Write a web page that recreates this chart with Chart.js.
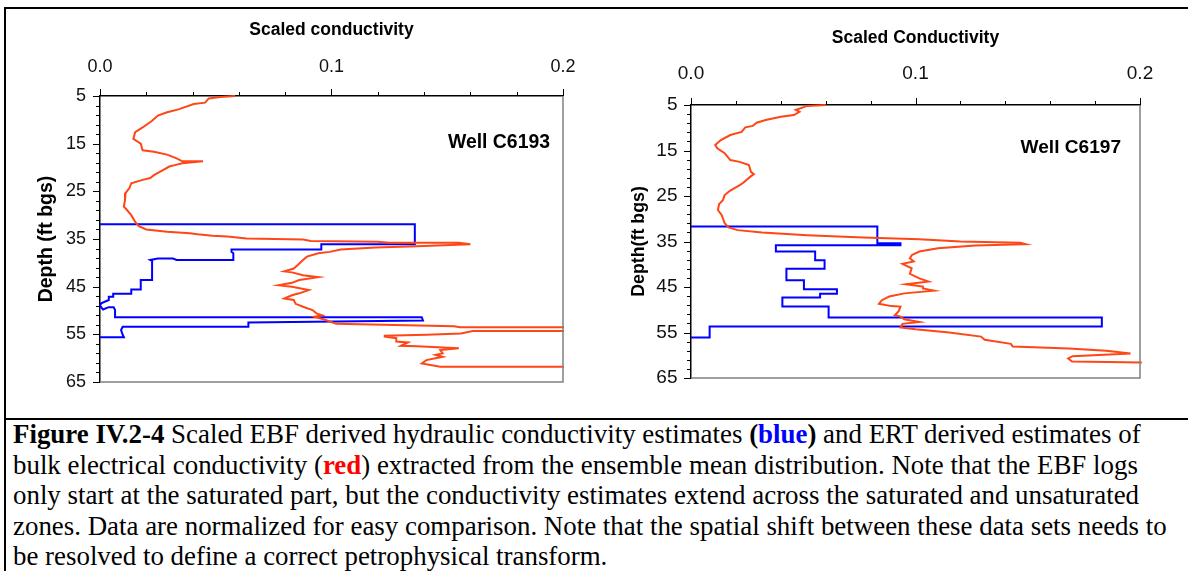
<!DOCTYPE html>
<html>
<head>
<meta charset="utf-8">
<script src="https://cdn.jsdelivr.net/npm/chart.js@4.4.0/dist/chart.umd.min.js"></script>
<style>
  html, body { margin: 0; padding: 0; background: #fff; }
  body { width: 1188px; height: 571px; position: relative; overflow: hidden; }
  canvas { position: absolute; top: 0; }
  #chartC6193 { left: 0; }
  #chartC6197 { left: 594px; }
  .frame { position: absolute; left: 4px; top: 7px; width: 1200px; height: 600px;
           border-top: 2px solid #000; border-left: 2px solid #000; z-index: 2; }
  .rule { position: absolute; left: 4px; top: 418px; width: 1200px; border-top: 2px solid #000; z-index: 2; }
  .caption { position: absolute; left: 13px; top: 419px; white-space: nowrap; color: #000;
             font-family: 'Liberation Serif', 'Times New Roman', serif; font-size: 26.9px; line-height: 30.5px; }
  .caption .blue { color: #0000ff; }
  .caption .red { color: #ff0000; }
</style>
</head>
<body>
<canvas id="chartC6193" width="594" height="419"></canvas>
<canvas id="chartC6197" width="594" height="419"></canvas>
<div class="frame"></div>
<div class="rule"></div>
<div class="caption">
  <b>Figure IV.2-4</b> Scaled EBF derived hydraulic conductivity estimates <b>(<span class="blue">blue</span>)</b> and ERT derived estimates of<br>
  bulk electrical conductivity (<b class="red">red</b>) extracted from the ensemble mean distribution. Note that the EBF logs<br>
  only start at the saturated part, but the conductivity estimates extend across the saturated and unsaturated<br>
  zones. Data are normalized for easy comparison. Note that the spatial shift between these data sets needs to<br>
  be resolved to define a correct petrophysical transform.
</div>
<script>
// --- AXIS LABELS ---
const depthLabels = [5, 15, 25, 35, 45, 55, 65];
const conductivityLabels = [0.0, 0.1, 0.2];

// --- WELL C6193 ---
// ERT bulk electrical conductivity (red), depth in ft bgs
const c6193ErtDepth = [5.0, 5.2, 5.5, 6.4, 6.7, 7.8, 8.4, 9.1, 10.2, 11.6, 12.6, 14.0, 15.0, 16.4, 16.7, 17.3, 18.1, 18.7, 18.7, 19.1,
  19.5, 19.8, 20.5, 21.6, 22.2, 22.6, 23.3, 24.3, 25.3, 26.8, 28.2, 28.6, 30.0, 31.4, 32.3, 33.0, 33.5, 33.8, 34.0, 34.3,
  34.5, 34.9, 35.1, 35.4, 35.6, 35.8, 35.8, 36.1, 36.5, 36.8, 37.2, 37.7, 38.0, 38.7, 39.4, 40.5, 41.2, 41.8, 42.0, 42.6,
  43.0, 43.6, 44.2, 44.7, 45.0, 45.7, 46.4, 46.8, 47.5, 47.8, 48.6, 49.2, 49.9, 50.6, 51.0, 51.3, 52.0, 52.8, 53.3, 53.5,
  53.5, 54.3, 54.3, 54.8, 55.1, 55.3, 55.5, 55.8, 56.5, 56.7, 57.4, 57.5, 57.9, 58.3, 59.0, 59.3, 59.7, 60.4, 61.1, 61.8, 61.8];
const c6193ErtValue = [0.0584, 0.0519, 0.047, 0.0454, 0.0405, 0.0339, 0.029, 0.025, 0.0225, 0.0184, 0.0152, 0.0144, 0.0176, 0.0184, 0.0233, 0.029, 0.0331, 0.0356, 0.0445, 0.0356,
  0.0323, 0.0299, 0.0274, 0.0233, 0.0217, 0.0184, 0.0135, 0.0127, 0.0111, 0.0108, 0.0103, 0.0111, 0.0135, 0.0152, 0.0168, 0.020, 0.029, 0.0388, 0.0421, 0.0486,
  0.0551, 0.0633, 0.0878, 0.091, 0.120, 0.125, 0.155, 0.160, 0.137, 0.119, 0.104, 0.0992, 0.0943, 0.0894, 0.0877, 0.0853, 0.0837, 0.0796, 0.0829, 0.0877,
  0.0943, 0.0861, 0.0829, 0.0772, 0.0829, 0.0902, 0.0861, 0.0829, 0.0796, 0.0837, 0.0845, 0.0877, 0.0918, 0.0935, 0.0959, 0.0926, 0.0975, 0.102, 0.153, 0.1555,
  0.24, 0.24, 0.161, 0.156, 0.141, 0.123, 0.123, 0.128, 0.128, 0.133, 0.130, 0.137, 0.155, 0.147, 0.148, 0.145, 0.148, 0.141, 0.139, 0.147, 0.24];
// EBF hydraulic conductivity (blue)
const c6193EbfDepth = [31.9, 31.9, 36.1, 36.1, 37.2, 37.2, 37.7, 38.0, 39.4, 39.4, 39.1, 39.1, 39.4, 39.6, 43.6, 43.6, 45.6, 45.6, 46.5, 46.5,
  47.1, 47.1, 47.8, 48.5, 49.0, 49.8, 49.3, 49.3, 49.9, 51.4, 51.4, 52.1, 52.5, 53.4, 53.4, 54.1, 55.1, 55.6, 55.6];
const c6193EbfValue = [0, 0.136, 0.136, 0.0956, 0.0956, 0.0568, 0.0568, 0.0576, 0.0576, 0.0331, 0.0315, 0.025, 0.0217, 0.0225, 0.0225, 0.0176, 0.0176, 0.0135, 0.0135, 0.0057,
  0.0057, 0.0038, 0.0038, 0.0005, 0.0, 0.0013, 0.0038, 0.0059, 0.0065, 0.0065, 0.139, 0.1395, 0.0641, 0.0641, 0.0098, 0.0091, 0.0098, 0.0103, 0];

// --- WELL C6197 ---
const c6197ErtDepth = [5.0, 5.2, 6.1, 6.5, 7.2, 7.6, 8.3, 8.9, 9.6, 9.9, 10.9, 11.6, 12.7, 13.8, 14.5, 15.6, 17.1, 17.5, 18.2, 19.7,
  20.2, 20.8, 22.1, 22.6, 23.8, 24.8, 25.9, 26.8, 28.1, 29.2, 31.0, 31.9, 32.5, 33.0, 33.6, 34.1, 34.5, 35.0, 35.3, 35.6,
  35.9, 36.5, 37.2, 38.0, 38.7, 39.4, 39.9, 40.9, 42.1, 43.1, 43.8, 44.4, 44.9, 45.3, 45.8, 46.4, 47.1, 47.9, 48.7, 49.2,
  49.3, 50.3, 51.2, 51.5, 52.1, 52.7, 53.1, 53.9, 54.3, 55.0, 55.9, 56.6, 57.5, 58.1, 58.5, 59.0, 59.6, 60.2, 60.7, 61.4, 61.6];
const c6197ErtValue = [0.06, 0.0517, 0.0467, 0.0483, 0.0458, 0.04, 0.0333, 0.0292, 0.0275, 0.0242, 0.0225, 0.0175, 0.0133, 0.0108, 0.0117, 0.015, 0.0175, 0.0217, 0.0258, 0.0267,
  0.028, 0.0263, 0.0233, 0.0217, 0.0175, 0.015, 0.0142, 0.0125, 0.012, 0.0137, 0.015, 0.0167, 0.0208, 0.0317, 0.0517, 0.0767, 0.1017, 0.12, 0.1467, 0.149,
  0.1267, 0.11, 0.1017, 0.0983, 0.0975, 0.0992, 0.0942, 0.0983, 0.0975, 0.1017, 0.1058, 0.0958, 0.1033, 0.1033, 0.1083, 0.095, 0.0883, 0.085, 0.0837, 0.0892,
  0.0933, 0.0925, 0.0908, 0.0933, 0.095, 0.1017, 0.0942, 0.0933, 0.1, 0.115, 0.1292, 0.1308, 0.1425, 0.1433, 0.1683, 0.185, 0.1958, 0.17, 0.168, 0.1697, 0.2008];
const c6197EbfDepth = [31.7, 31.7, 35.4, 35.4, 35.8, 35.8, 37.2, 37.2, 39.1, 39.1, 41.0, 41.0, 43.5, 43.5, 45.5, 45.5, 46.5, 46.5, 47.3, 47.3,
  49.3, 49.3, 51.7, 51.7, 53.7, 53.7, 56.1, 56.1];
const c6197EbfValue = [0, 0.083, 0.083, 0.0933, 0.0933, 0.0378, 0.0378, 0.0553, 0.0553, 0.0595, 0.0595, 0.0425, 0.0425, 0.0503, 0.0503, 0.065, 0.065, 0.0575, 0.0575, 0.0407,
  0.0407, 0.0613, 0.0613, 0.183, 0.183, 0.0083, 0.0083, 0];

const ERT_COLOR = '#ff4616';
const EBF_COLOR = '#0000ff';
const SANS = "'Liberation Sans', Arial, sans-serif";

// --- HELPERS ---
function toPoints(values, depths) {
  return depths.map((d, i) => ({ x: values[i], y: d }));
}

const isMajorX = (v) => conductivityLabels.some((l) => Math.abs(l - v) < 1e-6);
const isMajorY = (v) => depthLabels.includes(v);

// Short outside tick marks, the grey right/bottom frame and the well name
const wellPlotPlugin = {
  id: 'wellPlot',
  afterDraw(chart, args, opts) {
    const { ctx, chartArea: a, scales } = chart;
    ctx.save();
    ctx.strokeStyle = '#808080';
    ctx.lineWidth = 1.5;
    ctx.beginPath();
    ctx.moveTo(a.right, a.top);
    ctx.lineTo(a.right, a.bottom);
    ctx.lineTo(a.left, a.bottom);
    ctx.stroke();

    ctx.strokeStyle = '#000';
    ctx.lineWidth = 1;
    ctx.beginPath();
    scales.x.ticks.forEach((t) => {
      const px = Math.round(scales.x.getPixelForValue(t.value)) + 0.5;
      const len = isMajorX(t.value) ? opts.majorTick : opts.minorTick;
      ctx.moveTo(px, a.top);
      ctx.lineTo(px, a.top - len);
    });
    scales.y.ticks.forEach((t) => {
      const py = Math.round(scales.y.getPixelForValue(t.value)) + 0.5;
      const len = isMajorY(t.value) ? opts.majorTick : opts.minorTick;
      ctx.moveTo(a.left, py);
      ctx.lineTo(a.left - len, py);
    });
    ctx.stroke();

    ctx.fillStyle = '#000';
    ctx.font = `bold ${opts.wellFont}px ${SANS}`;
    ctx.textAlign = 'right';
    ctx.textBaseline = 'middle';
    ctx.fillText(opts.well, a.right - opts.wellRight, a.top + opts.wellTop);
    ctx.restore();
  }
};

function buildWellChart(canvasId, s) {
  const ctx = document.getElementById(canvasId).getContext('2d');
  return new Chart(ctx, {
    type: 'scatter',
    data: {
      datasets: [
        {
          label: 'ERT',
          data: toPoints(s.ertValue, s.ertDepth),
          showLine: true,
          borderColor: ERT_COLOR,
          borderWidth: 2,
          pointRadius: 0,
          clip: s.clip
        },
        {
          label: 'EBF',
          data: toPoints(s.ebfValue, s.ebfDepth),
          showLine: true,
          borderColor: EBF_COLOR,
          borderWidth: 2,
          pointRadius: 0,
          clip: s.clip
        }
      ]
    },
    options: {
      responsive: false,
      animation: false,
      events: [],
      layout: { padding: s.padding },
      plugins: {
        legend: { display: false },
        tooltip: { enabled: false },
        wellPlot: s.plot
      },
      scales: {
        x: {
          type: 'linear',
          position: 'top',
          min: 0,
          max: 0.2,
          grid: { display: false, drawTicks: false },
          border: { display: true, color: '#000', width: 1.5 },
          ticks: {
            stepSize: 0.02,
            autoSkip: false,
            maxRotation: 0,
            padding: s.xTickPad,
            color: '#111',
            font: { family: SANS, size: s.tickFont },
            callback: (v) => (isMajorX(v) ? v.toFixed(1) : '')
          },
          title: {
            display: true,
            text: s.xTitle,
            color: '#000',
            font: { family: SANS, size: s.titleFont, weight: 'bold' },
            padding: { top: s.xTitlePad, bottom: 0 }
          },
          afterFit: (scale) => { scale.height = s.xHeight; }
        },
        y: {
          type: 'linear',
          reverse: true,
          min: 5,
          max: 65,
          grid: { display: false, drawTicks: false },
          border: { display: true, color: '#000', width: 1.5 },
          ticks: {
            stepSize: 2,
            autoSkip: false,
            padding: s.yTickPad,
            color: '#111',
            font: { family: SANS, size: s.tickFont },
            callback: (v) => (isMajorY(v) ? String(v) : '')
          },
          title: {
            display: true,
            text: s.yTitle,
            color: '#000',
            font: { family: SANS, size: s.yTitleFont, weight: 'bold' },
            padding: { top: s.yTitlePad, bottom: 0 }
          },
          afterFit: (scale) => { scale.width = s.yWidth; }
        }
      }
    },
    plugins: [wellPlotPlugin]
  });
}

// --- CHARTS ---
buildWellChart('chartC6193', {
  ertValue: c6193ErtValue, ertDepth: c6193ErtDepth,
  ebfValue: c6193EbfValue, ebfDepth: c6193EbfDepth,
  clip: 1,
  padding: { left: 0, top: 0, right: 25, bottom: 37 },
  xHeight: 96, yWidth: 100,
  tickFont: 18, xTickPad: 18.5, yTickPad: 14,
  xTitle: 'Scaled conductivity', titleFont: 17.5, xTitlePad: 19.5,
  yTitle: 'Depth (ft bgs)', yTitleFont: 19.5, yTitlePad: 34.5,
  plot: { well: 'Well C6193', wellFont: 19.4, wellRight: 13, wellTop: 47, majorTick: 7, minorTick: 4 }
});

buildWellChart('chartC6197', {
  ertValue: c6197ErtValue, ertDepth: c6197ErtDepth,
  ebfValue: c6197EbfValue, ebfDepth: c6197EbfDepth,
  clip: false,
  padding: { left: 0, top: 0, right: 48, bottom: 41 },
  xHeight: 105, yWidth: 97,
  tickFont: 19, xTickPad: 20.2, yTickPad: 13.5,
  xTitle: 'Scaled Conductivity', titleFont: 17.5, xTitlePad: 27.5,
  yTitle: 'Depth(ft bgs)', yTitleFont: 17.8, yTitlePad: 34.3,
  plot: { well: 'Well C6197', wellFont: 19.1, wellRight: 19, wellTop: 43, majorTick: 7, minorTick: 4 }
});
</script>
</body>
</html>
